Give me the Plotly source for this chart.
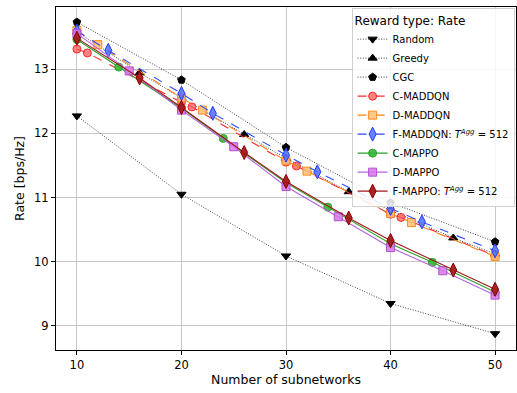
import plotly.graph_objects as go

# ---------------- data ----------------
x_random = [10, 20, 30, 40, 50]
y_random = [12.27, 11.05, 10.09, 9.35, 8.88]

x_greedy = [10, 16, 20, 26, 30, 36, 40, 46, 50]
y_greedy = [13.58, 12.94, 12.55, 11.98, 11.61, 11.09, 10.80, 10.37, 10.12]

x_cgc = [10, 20, 30, 40, 50]
y_cgc = [13.73, 12.83, 11.78, 10.92, 10.31]

x_c_maddqn = [10, 11, 20, 21, 30, 31, 40, 41, 50]
y_c_maddqn = [13.31, 13.25, 12.48, 12.41, 11.55, 11.49, 10.74, 10.69, 10.09]

x_d_maddqn = [10, 12, 20, 22, 30, 32, 40, 42, 50]
y_d_maddqn = [13.60, 13.38, 12.55, 12.36, 11.57, 11.41, 10.75, 10.61, 10.08]

x_f_maddqn = [10, 13, 20, 23, 30, 33, 40, 43, 50]
y_f_maddqn = [13.59, 13.29, 12.62, 12.31, 11.66, 11.40, 10.83, 10.62, 10.17]

x_c_mappo = [10, 14, 20, 24, 30, 34, 40, 44, 50]
y_c_mappo = [13.46, 13.03, 12.39, 11.92, 11.23, 10.85, 10.28, 9.99, 9.53]

x_d_mappo = [10, 15, 20, 25, 30, 35, 40, 45, 50]
y_d_mappo = [13.55, 12.97, 12.36, 11.79, 11.17, 10.70, 10.22, 9.86, 9.48]

x_f_mappo = [10, 16, 20, 26, 30, 36, 40, 46, 50]
y_f_mappo = [13.48, 12.86, 12.40, 11.70, 11.25, 10.68, 10.33, 9.87, 9.57]

x_ticks = [10, 20, 30, 40, 50]
y_ticks = [9, 10, 11, 12, 13]

DOT = "1px,1.6px"
series = [
    ("Random", x_random, y_random, "rgba(0,0,0,0.75)", DOT, "triangle-down", "black", "black", 8),
    ("Greedy", x_greedy, y_greedy, "rgba(0,0,0,0.75)", DOT, "triangle-up", "black", "black", 8),
    ("CGC", x_cgc, y_cgc, "rgba(0,0,0,0.75)", DOT, "pentagon", "black", "black", 8),
    ("C-MADDQN", x_c_maddqn, y_c_maddqn, "#ff2a2a", "dash", "circle", "rgba(255,90,90,0.75)", "#ff2a2a", 8),
    ("D-MADDQN", x_d_maddqn, y_d_maddqn, "#ff7f0e", "dash", "square", "rgba(255,190,120,0.85)", "#ff8c1a", 8),
    ("F-MADDQN: <i>T</i><sup><i>Agg</i></sup> = 512", x_f_maddqn, y_f_maddqn, "#2f4cff", "dash",
     "diamond-tall", "rgba(80,110,255,0.85)", "#1f3cff", 10),
    ("C-MAPPO", x_c_mappo, y_c_mappo, "#2ca02c", "solid", "circle", "rgba(50,185,50,0.9)", "#2ca02c", 8),
    ("D-MAPPO", x_d_mappo, y_d_mappo, "#b860e0", "solid", "square", "rgba(215,120,235,0.85)", "#b050d0", 8),
    ("F-MAPPO: <i>T</i><sup><i>Agg</i></sup> = 512", x_f_mappo, y_f_mappo, "#a01818", "solid",
     "diamond-tall", "rgba(165,25,25,0.95)", "#8b0000", 10),
]

fig = go.Figure()
for name, xs, ys, lc, dash, sym, fc, ec, ms in series:
    fig.add_trace(go.Scatter(
        x=xs, y=ys, name=name, mode="lines+markers",
        line=dict(color=lc, dash=dash, width=1 if dash == DOT else 1.1),
        marker=dict(symbol=sym, size=ms, color=fc, line=dict(color=ec, width=1)),
    ))

axis_common = dict(
    showline=True, linecolor="black", linewidth=1, mirror=True,
    ticks="outside", ticklen=4, tickcolor="black", tickwidth=1,
    showgrid=True, gridcolor="#c8c8c8", gridwidth=1, zeroline=False,
    automargin=False,
    tickfont=dict(family="DejaVu Sans", size=11.5, color="black"),
)

fig.update_layout(
    width=517, height=393,
    margin=dict(l=56, r=1, t=7, b=43),
    paper_bgcolor="white", plot_bgcolor="white",
    font=dict(family="DejaVu Sans", color="black"),
    xaxis=dict(range=[8, 52], tickvals=x_ticks,
               title=dict(text="Number of subnetworks", font=dict(size=12.5), standoff=4),
               **axis_common),
    yaxis=dict(range=[8.626, 13.965], tickvals=y_ticks,
               title=dict(text="Rate [bps/Hz]", font=dict(size=12.5), standoff=6),
               **axis_common),
    legend=dict(
        x=0.997, y=0.997, xanchor="right", yanchor="top",
        bgcolor="rgba(255,255,255,0.85)", bordercolor="#d0d0d0", borderwidth=1,
        font=dict(family="DejaVu Sans", size=10),
        title=dict(text="Reward type: Rate", font=dict(size=12), side="top"),
        tracegroupgap=0, itemwidth=30,
    ),
)

fig.write_html("out.html", config={"displayModeBar": False},
               post_script="document.body.style.margin='0';")
